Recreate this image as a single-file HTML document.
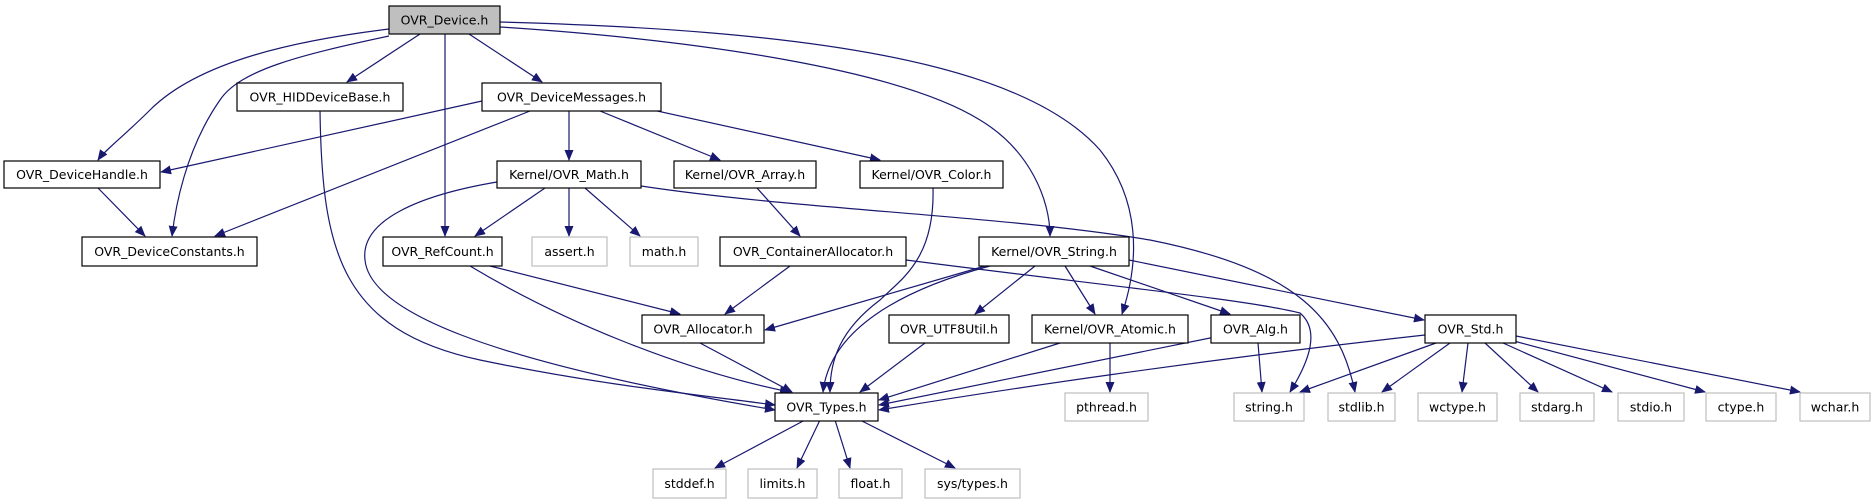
<!DOCTYPE html>
<html><head><meta charset="utf-8"><style>
html,body{margin:0;padding:0;background:#fff;}
svg{display:block;}
text{font-family:"DejaVu Sans","Liberation Sans",sans-serif;font-size:12.5px;fill:#000;text-anchor:middle;dominant-baseline:central;}
.e{fill:none;stroke:#191970;stroke-width:1.2;marker-end:url(#a);}
.n{fill:#fff;stroke:#000;stroke-width:1.2;}
.g{fill:#fff;stroke:#bfbfbf;stroke-width:1.2;}
</style></head><body>
<svg width="1875" height="504" viewBox="0 0 1875 504" xmlns="http://www.w3.org/2000/svg">
<defs><marker id="a" markerUnits="userSpaceOnUse" markerWidth="11" markerHeight="9" refX="10" refY="4.5" orient="auto"><path d="M0,0 L11,4.5 L0,9 z" fill="#191970"/></marker></defs>
<!-- edges -->
<path class="e" d="M389,29 C300,40 200,60 150,110 C125,135 105,150 98,160"/>
<path class="e" d="M389,36 C300,55 240,70 220,100 C185,150 175,210 172,236"/>
<path class="e" d="M420,34 L347,82"/>
<path class="e" d="M445,34 L445,236"/>
<path class="e" d="M469,34 L542,82"/>
<path class="e" d="M500,27 C700,40 900,70 980,120 C1030,150 1050,200 1050,236"/>
<path class="e" d="M500,22 C800,30 1020,60 1100,150 C1140,200 1140,260 1122,314"/>
<path class="e" d="M320,111 C322,250 340,330 480,360 C600,385 700,395 775,405"/>
<path class="e" d="M482,101 L161,172"/>
<path class="e" d="M530,111 L215,236"/>
<path class="e" d="M569,111 L569,160"/>
<path class="e" d="M600,111 L720,160"/>
<path class="e" d="M630,105 L880,160"/>
<path class="e" d="M98,188 L145,236"/>
<path class="e" d="M545,188 L475,236"/>
<path class="e" d="M569,188 L569,236"/>
<path class="e" d="M585,188 L640,236"/>
<path class="e" d="M497,182 C420,195 360,220 365,260 C370,310 480,360 775,410"/>
<path class="e" d="M641,186 C800,210 1000,215 1150,240 C1300,270 1340,320 1355,392"/>
<path class="e" d="M757,188 L800,236"/>
<path class="e" d="M933,188 C935,260 900,280 880,300 C840,330 830,360 830,392"/>
<path class="e" d="M490,266 L680,314"/>
<path class="e" d="M470,266 C560,320 680,370 790,392"/>
<path class="e" d="M790,266 L725,314"/>
<path class="e" d="M906,260 C1100,285 1250,300 1300,313 C1320,330 1310,360 1290,392"/>
<path class="e" d="M985,266 L765,330"/>
<path class="e" d="M990,266 C900,290 830,330 823,392"/>
<path class="e" d="M1035,266 L975,314"/>
<path class="e" d="M1065,266 L1095,314"/>
<path class="e" d="M1090,266 L1230,314"/>
<path class="e" d="M1129,260 L1424,320"/>
<path class="e" d="M700,343 L792,392"/>
<path class="e" d="M925,343 L860,392"/>
<path class="e" d="M1060,343 L879,400"/>
<path class="e" d="M1110,343 L1110,392"/>
<path class="e" d="M1215,337 L879,405"/>
<path class="e" d="M1258,343 L1262,392"/>
<path class="e" d="M1425,335 C1200,360 1000,390 879,410"/>
<path class="e" d="M1436,343 L1300,392"/>
<path class="e" d="M1450,343 L1382,392"/>
<path class="e" d="M1468,343 L1462,392"/>
<path class="e" d="M1485,343 L1538,392"/>
<path class="e" d="M1503,343 L1612,392"/>
<path class="e" d="M1510,340 L1705,392"/>
<path class="e" d="M1516,336 L1800,392"/>
<path class="e" d="M805,420 L715,468"/>
<path class="e" d="M820,420 L797,468"/>
<path class="e" d="M835,420 L850,468"/>
<path class="e" d="M860,420 L955,468"/>
<!-- nodes -->
<rect x="389" y="6" width="111" height="28" fill="#bfbfbf" stroke="#000" stroke-width="1.2"/><text x="444.5" y="20">OVR_Device.h</text>
<rect class="n" x="237" y="83" width="166" height="28"/><text x="320" y="97">OVR_HIDDeviceBase.h</text>
<rect class="n" x="482" y="83" width="179" height="28"/><text x="571.5" y="97">OVR_DeviceMessages.h</text>
<rect class="n" x="4" y="161" width="156" height="27"/><text x="82" y="174.5">OVR_DeviceHandle.h</text>
<rect class="n" x="497" y="161" width="144" height="27"/><text x="569" y="174.5">Kernel/OVR_Math.h</text>
<rect class="n" x="674" y="161" width="142" height="27"/><text x="745" y="174.5">Kernel/OVR_Array.h</text>
<rect class="n" x="860" y="161" width="143" height="27"/><text x="931.5" y="174.5">Kernel/OVR_Color.h</text>
<rect class="n" x="82" y="237" width="175" height="29"/><text x="169.5" y="251.5">OVR_DeviceConstants.h</text>
<rect class="n" x="383" y="237" width="119" height="29"/><text x="442.5" y="251.5">OVR_RefCount.h</text>
<rect class="g" x="532" y="237" width="75" height="29"/><text x="569.5" y="251.5">assert.h</text>
<rect class="g" x="630" y="237" width="68" height="29"/><text x="664" y="251.5">math.h</text>
<rect class="n" x="720" y="237" width="186" height="29"/><text x="813" y="251.5">OVR_ContainerAllocator.h</text>
<rect class="n" x="979" y="237" width="150" height="29"/><text x="1054" y="251.5">Kernel/OVR_String.h</text>
<rect class="n" x="642" y="315" width="122" height="28"/><text x="703" y="329">OVR_Allocator.h</text>
<rect class="n" x="889" y="315" width="120" height="28"/><text x="949" y="329">OVR_UTF8Util.h</text>
<rect class="n" x="1032" y="315" width="156" height="28"/><text x="1110" y="329">Kernel/OVR_Atomic.h</text>
<rect class="n" x="1211" y="315" width="89" height="28"/><text x="1255.5" y="329">OVR_Alg.h</text>
<rect class="n" x="1425" y="315" width="91" height="28"/><text x="1470.5" y="329">OVR_Std.h</text>
<rect class="n" x="775" y="393" width="103" height="28"/><text x="826.5" y="407">OVR_Types.h</text>
<rect class="g" x="1065" y="393" width="83" height="28"/><text x="1106.5" y="407">pthread.h</text>
<rect class="g" x="1234" y="393" width="70" height="28"/><text x="1269" y="407">string.h</text>
<rect class="g" x="1328" y="393" width="67" height="28"/><text x="1361.5" y="407">stdlib.h</text>
<rect class="g" x="1418" y="393" width="79" height="28"/><text x="1457.5" y="407">wctype.h</text>
<rect class="g" x="1520" y="393" width="74" height="28"/><text x="1557" y="407">stdarg.h</text>
<rect class="g" x="1618" y="393" width="66" height="28"/><text x="1651" y="407">stdio.h</text>
<rect class="g" x="1706" y="393" width="70" height="28"/><text x="1741" y="407">ctype.h</text>
<rect class="g" x="1800" y="393" width="70" height="28"/><text x="1835" y="407">wchar.h</text>
<rect class="g" x="653" y="469" width="73" height="29"/><text x="689.5" y="483.5">stddef.h</text>
<rect class="g" x="748" y="469" width="69" height="29"/><text x="782.5" y="483.5">limits.h</text>
<rect class="g" x="839" y="469" width="63" height="29"/><text x="870.5" y="483.5">float.h</text>
<rect class="g" x="925" y="469" width="95" height="29"/><text x="972.5" y="483.5">sys/types.h</text>
</svg>
</body></html>
